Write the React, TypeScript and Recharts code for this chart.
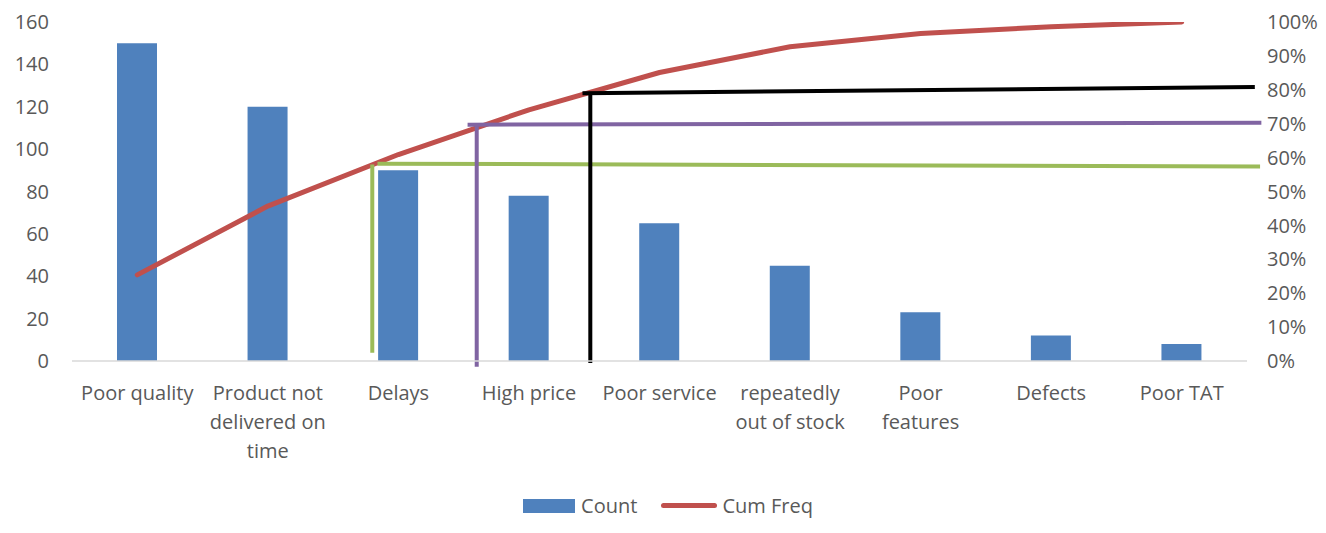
import React from 'react';
import {
  ComposedChart, Bar, Line, XAxis, YAxis, ReferenceLine, Legend,
} from 'recharts';

const categories = [
  'Poor quality', 'Product not delivered on time', 'Delays', 'High price',
  'Poor service', 'repeatedly out of stock', 'Poor features', 'Defects', 'Poor TAT',
];
const tickLabelLines: string[][] = [
  ['Poor quality'], ['Product not', 'delivered on', 'time'], ['Delays'], ['High price'],
  ['Poor service'], ['repeatedly', 'out of stock'], ['Poor', 'features'], ['Defects'], ['Poor TAT'],
];
const counts = [150, 120, 90, 78, 65, 45, 23, 12, 8];
const cumFreq = [0.254, 0.457, 0.609, 0.741, 0.851, 0.927, 0.966, 0.986, 1.0];
const leftTicks = [0, 20, 40, 60, 80, 100, 120, 140, 160];
const rightTicks = [0, 0.1, 0.2, 0.3, 0.4, 0.5, 0.6, 0.7, 0.8, 0.9, 1.0];

// hand-drawn annotation segments (x in category-band units from the left edge, y in cumulative fraction)
const greenSegs = [
  [{ x: 2.30, y: 0.024 }, { x: 2.30, y: 0.58 }],
  [{ x: 2.34, y: 0.582 }, { x: 9.10, y: 0.574 }],
];
const purpleSegs = [
  [{ x: 3.10, y: -0.017 }, { x: 3.10, y: 0.698 }],
  [{ x: 3.03, y: 0.697 }, { x: 9.11, y: 0.703 }],
];
const blackSegs = [
  [{ x: 3.97, y: -0.006 }, { x: 3.97, y: 0.79 }],
  [{ x: 3.91, y: 0.79 }, { x: 9.06, y: 0.808 }],
];

const data = categories.map((c, i) => ({ name: c, pos: i + 0.5, count: counts[i], cum: cumFreq[i] }));

const FONT = '"Open Sans", sans-serif';
const TEXT = '#595959';
const FS = 20;

const CatTick = (props: any) => {
  const { x, y, index } = props;
  const lines = tickLabelLines[index] || [];
  return (
    <text x={x} y={y + 39} textAnchor="middle" fill={TEXT} fontSize={FS} fontFamily={FONT}>
      {lines.map((l, i) => (
        <tspan key={i} x={x} dy={i === 0 ? 0 : 29}>{l}</tspan>
      ))}
    </text>
  );
};

const LegendContent = () => (
  <div style={{ display: 'flex', justifyContent: 'center', alignItems: 'center', fontFamily: FONT, fontSize: FS, color: TEXT, paddingLeft: 10, paddingTop: 6 }}>
    <span style={{ display: 'inline-block', width: 52, height: 14, background: '#4F81BD', marginRight: 6 }} />
    <span style={{ marginRight: 24 }}>Count</span>
    <span style={{ display: 'inline-block', width: 56, height: 5, borderRadius: 3, background: '#C0504D', marginRight: 5 }} />
    <span>Cum Freq</span>
  </div>
);

const segLines = (segs: any[], color: string, key: string) =>
  segs.map((s, i) => (
    <ReferenceLine
      key={key + i}
      xAxisId="ann"
      yAxisId="pct"
      segment={s}
      stroke={color}
      strokeWidth={4}
      ifOverflow="visible"
    />
  ));

export default function App() {
  return (
    <div style={{ position: 'absolute', left: 0, top: 0, width: 1326, height: 533, background: '#fff' }}>
      <ComposedChart
        width={1326}
        height={533}
        data={data}
        margin={{ top: 22, right: 0, left: 0, bottom: 0 }}
      >
        <XAxis
          dataKey="name"
          xAxisId="cat"
          interval={0}
          tickLine={false}
          tickSize={0}
          tickMargin={0}
          axisLine={{ stroke: '#D9D9D9', strokeWidth: 1.5 }}
          tick={<CatTick />}
          height={125}
        />
        <XAxis
          xAxisId="ann"
          dataKey="pos"
          orientation="top"
          type="number"
          domain={[0, 9]}
          ticks={[0, 9]}
          height={0}
          hide
          allowDataOverflow
        />
        <YAxis
          yAxisId="cnt"
          domain={[0, 160]}
          ticks={leftTicks}
          width={72}
          axisLine={false}
          tickLine={false}
          tickSize={0}
          tickMargin={23}
          tick={{ fill: TEXT, fontSize: FS, fontFamily: FONT }}
        />
        <YAxis
          yAxisId="pct"
          orientation="right"
          domain={[0, 1]}
          ticks={rightTicks}
          width={79}
          axisLine={false}
          tickLine={false}
          tickSize={0}
          tickMargin={20}
          tickFormatter={(v: number) => `${Math.round(v * 100)}%`}
          tick={{ fill: TEXT, fontSize: FS, fontFamily: FONT, textAnchor: 'start' }}
          allowDataOverflow
        />
        <Bar xAxisId="cat" yAxisId="cnt" dataKey="count" fill="#4F81BD" barSize={40} isAnimationActive={false} />
        <Line
          xAxisId="cat"
          yAxisId="pct"
          dataKey="cum"
          stroke="#C0504D"
          strokeWidth={5}
          strokeLinecap="round"
          strokeLinejoin="round"
          dot={false}
          activeDot={false}
          isAnimationActive={false}
        />
        {segLines(greenSegs, '#9BBB59', 'g')}
        {segLines(purpleSegs, '#8064A2', 'p')}
        {segLines(blackSegs, '#000000', 'b')}
        <Legend verticalAlign="bottom" height={47} content={<LegendContent />} />
      </ComposedChart>
    </div>
  );
}
